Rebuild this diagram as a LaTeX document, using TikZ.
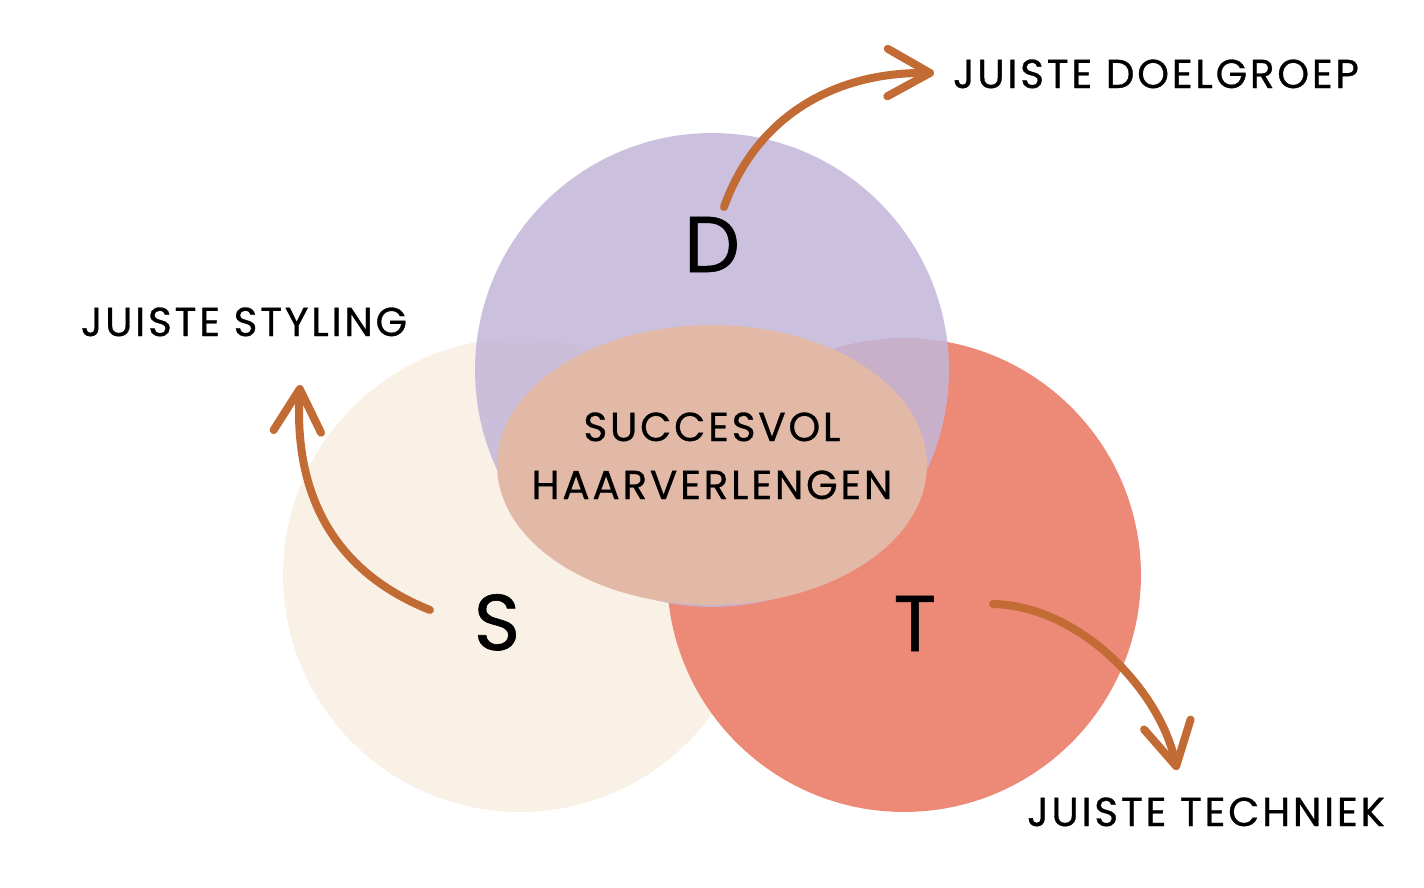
\documentclass[tikz,border=0pt]{standalone}
\usepackage{fontspec}
\setmainfont{Poppins}[FakeBold=0.8]
\newfontfamily\lblfont{Poppins}[LetterSpace=7,FakeBold=0.8]
\usetikzlibrary{arrows.meta}
\definecolor{cD}{RGB}{194,182,217}
\definecolor{cS}{RGB}{249,240,230}
\definecolor{cT}{RGB}{237,137,119}
\definecolor{cE}{RGB}{226,185,166}
\definecolor{cA}{RGB}{194,107,53}
\tikzset{
  lbl/.style={anchor=base, inner sep=0pt, font=\lblfont\fontsize{23}{26}\selectfont},
  big/.style={anchor=base, inner sep=0pt, font=\fontsize{45}{50}\selectfont},
  arr/.style={draw=cA, line width=0.16cm, line cap=round, line join=round,
    -{Straight Barb[length=0.85cm, width=0.95cm, round]}}
}
\begin{document}
\begin{tikzpicture}[x=0.02cm, y=-0.02cm]
\useasboundingbox (0,0) rectangle (1424,887);
\fill[cS] (520,575) circle (4.74cm);
\fill[cT] (904,575) circle (4.74cm);
\fill[cD, fill opacity=0.85] (712,370) circle (4.74cm);
\fill[cE] (712,465) ellipse [x radius=4.3cm, y radius=2.8cm];

\node[big] (D) at (712,272) {D};
\node[big] (S) at (497,650) {S};
\node[big] (T) at (915,651) {T};

\node[lbl] (c1) at (712,441) {SUCCESVOL};
\node[lbl] (c2) at (712,499) {HAARVERLENGEN};

\node[lbl] (doel) at (1156,88) {JUISTE DOELGROEP};
\node[lbl] (styl) at (244,336) {JUISTE STYLING};
\node[lbl] (tech) at (1206,826) {JUISTE TECHNIEK};

\coordinate (dS) at (724,207);
\coordinate (dE) at (934,73);
\coordinate (sS) at (430,610);
\coordinate (sE) at (300,385);
\coordinate (tS) at (993,604);
\coordinate (tE) at (1177,770);

\draw[arr] (dS) .. controls (755,120) and (830,72) .. (dE);
\draw[arr] (sS) .. controls (330,570) and (294,490) .. (sE);
\draw[arr] (tS) .. controls (1080,606) and (1160,690) .. (tE);
\end{tikzpicture}
\end{document}
